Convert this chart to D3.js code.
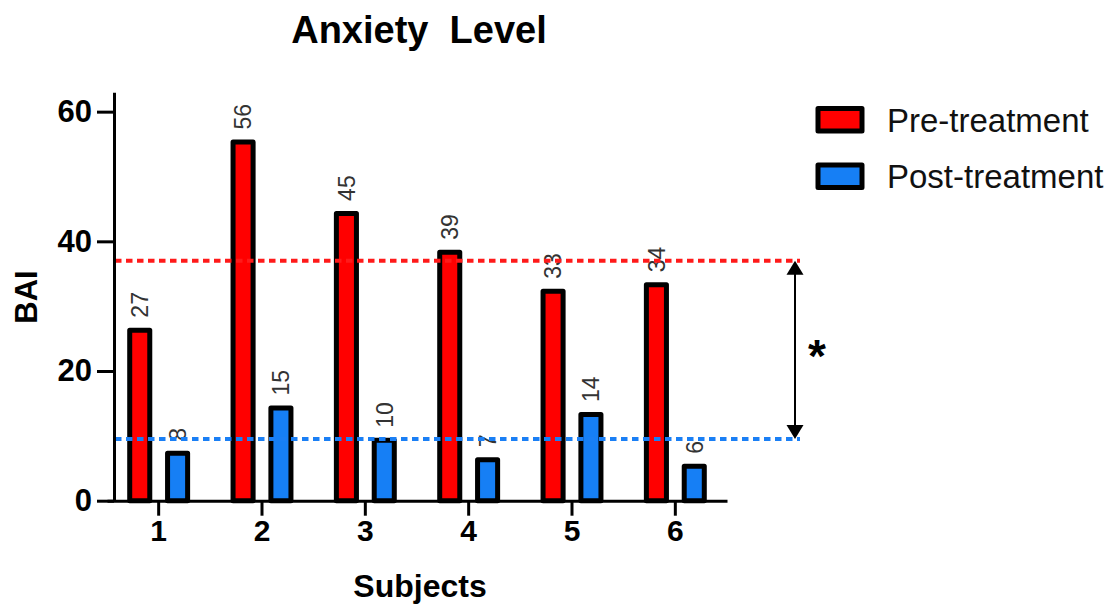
<!DOCTYPE html>
<html>
<head>
<meta charset="utf-8">
<script src="https://cdn.jsdelivr.net/npm/d3@7"></script>
<style>
  html, body { margin: 0; padding: 0; background: #fff; }
  svg { display: block; }
  text { font-family: "Liberation Sans", Arial, Helvetica, sans-serif; }
</style>
</head>
<body>
<svg id="chart" width="1108" height="606"></svg>
<script>
// ---- data ----
const subjects = ["1", "2", "3", "4", "5", "6"];
const seriesNames = ["Pre-treatment", "Post-treatment"];
const preTreatment = [27, 56, 45, 39, 33, 34];
const postTreatment = [8, 15, 10, 7, 14, 6];
const yTicks = [0, 20, 40, 60];
const referenceLevels = [37, 9.5];   // dotted group reference lines (pre, post)
const titleText = "Anxiety\u00A0 Level";
const xTitle = "Subjects";
const yTitle = "BAI";
const significanceMark = "*";

// ---- styles ----
const colors = { "Pre-treatment": "#ff0000", "Post-treatment": "#167ff5" };
const lineColors = ["#ff1a1a", "#1a7ff5"];

const svg = d3.select("#chart");
svg.append("rect").attr("width", 1108).attr("height", 606).attr("fill", "#fff");

const x = d3.scaleBand().domain(subjects).range([107, 727]).padding(0);
const x1 = d3.scaleBand().domain(seriesNames).range([0, x.bandwidth()])
  .paddingInner(0.47).paddingOuter(0.6);
const y = d3.scaleLinear().domain([0, 63]).range([500.7, 92.2]);

const rows = subjects.map((s, i) => ({
  subject: s,
  values: [
    { key: seriesNames[0], value: preTreatment[i] },
    { key: seriesNames[1], value: postTreatment[i] }
  ]
}));

const SW = 5;
// bars
const groups = svg.append("g").selectAll("g").data(rows).join("g")
  .attr("transform", d => `translate(${x(d.subject)},0)`);

groups.selectAll("rect").data(d => d.values).join("rect")
  .attr("x", d => x1(d.key))
  .attr("width", x1.bandwidth())
  .attr("y", d => y(d.value) + 4.5)
  .attr("height", d => y(0) - y(d.value) - 4.5)
  .attr("fill", d => colors[d.key])
  .attr("stroke", "#000")
  .attr("stroke-width", SW)
  .attr("stroke-linejoin", "round");

// value labels
groups.selectAll("text.val").data(d => d.values).join("text")
  .attr("class", "val")
  .attr("transform", d => `translate(${x1(d.key) + x1.bandwidth() / 2},${y(d.value) - 8}) rotate(-90)`)
  .attr("dy", "0.36em")
  .attr("text-anchor", "start")
  .attr("font-size", 23)
  .attr("fill", "#333")
  .text(d => d.value);

// reference lines
const lineEnd = 800;
svg.append("g").selectAll("line").data(referenceLevels).join("line")
  .attr("x1", 115).attr("x2", lineEnd)
  .attr("y1", d => y(d)).attr("y2", d => y(d))
  .attr("stroke", (d, i) => lineColors[i])
  .attr("stroke-width", 4)
  .attr("stroke-dasharray", "6.5,4.5");

// double arrow between the reference lines
const ax = 795;
const yTop = y(referenceLevels[0]), yBot = y(referenceLevels[1]);
const ah = 14, aw = 8.5;
svg.append("line").attr("x1", ax).attr("x2", ax)
  .attr("y1", yTop + ah - 1).attr("y2", yBot - ah + 1)
  .attr("stroke", "#000").attr("stroke-width", 2);
svg.append("path")
  .attr("d", `M${ax},${yTop} L${ax - aw},${yTop + ah} L${ax + aw},${yTop + ah} Z`)
  .attr("fill", "#000");
svg.append("path")
  .attr("d", `M${ax},${yBot} L${ax - aw},${yBot - ah} L${ax + aw},${yBot - ah} Z`)
  .attr("fill", "#000");
svg.append("text")
  .attr("x", 817).attr("y", (yTop + yBot) / 2 + 22)
  .attr("text-anchor", "middle")
  .attr("font-size", 46).attr("font-weight", "bold")
  .text(significanceMark);

// axes
const yAxis = svg.append("g").attr("transform", `translate(114,0)`)
  .call(d3.axisLeft(y).tickValues(yTicks).tickSize(17).tickSizeOuter(0).tickPadding(5));
yAxis.select(".domain").attr("stroke-width", 3);
yAxis.selectAll(".tick line").attr("stroke-width", 3);
yAxis.selectAll(".tick text").attr("font-size", 31).attr("font-weight", "bold")
  .attr("fill", "#000").attr("font-family", "Liberation Sans, Arial, sans-serif");

const xAxis = svg.append("g").attr("transform", `translate(0,${y(0)})`)
  .call(d3.axisBottom(x).tickSize(15).tickSizeOuter(0).tickPadding(4));
xAxis.select(".domain").attr("stroke-width", 3);
xAxis.selectAll(".tick line").attr("stroke-width", 3);
xAxis.selectAll(".tick text").attr("font-size", 30).attr("font-weight", "bold")
  .attr("fill", "#000").attr("font-family", "Liberation Sans, Arial, sans-serif");

// titles
const cx = (x.range()[0] + x.range()[1]) / 2;
svg.append("text").attr("x", cx + 2).attr("y", 43)
  .attr("text-anchor", "middle").attr("font-size", 38).attr("font-weight", "bold")
  .text(titleText);
svg.append("text").attr("x", cx + 3).attr("y", 597)
  .attr("text-anchor", "middle").attr("font-size", 32).attr("font-weight", "bold")
  .text(xTitle);
svg.append("text").attr("transform", `translate(37,297) rotate(-90)`)
  .attr("text-anchor", "middle").attr("font-size", 31).attr("font-weight", "bold")
  .text(yTitle);

// legend
const legend = svg.append("g").selectAll("g").data(seriesNames).join("g")
  .attr("transform", (d, i) => `translate(818,${108.5 + i * 56.5})`);
legend.append("rect")
  .attr("width", 44).attr("height", 22.5)
  .attr("fill", d => colors[d]).attr("stroke", "#000").attr("stroke-width", SW)
  .attr("stroke-linejoin", "round");
legend.append("text")
  .attr("x", 69).attr("y", 11.5).attr("dy", "0.36em")
  .attr("font-size", 33).attr("fill", "#111")
  .text(d => d);
</script>
</body>
</html>
